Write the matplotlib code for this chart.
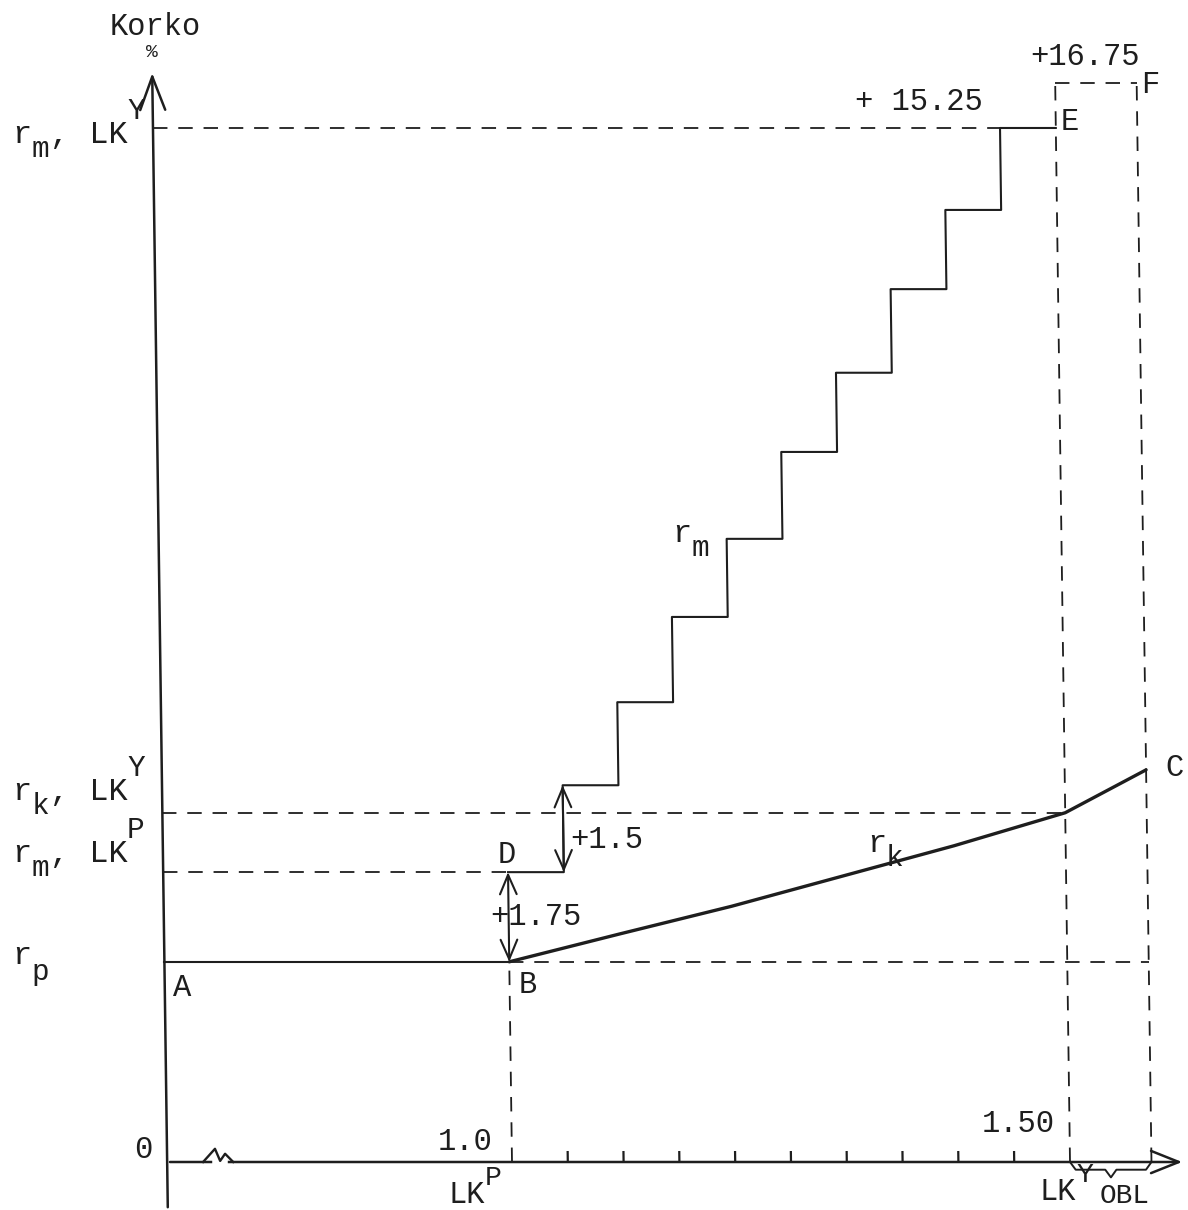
import matplotlib
matplotlib.use("Agg")
import matplotlib.pyplot as plt
import numpy as np
from matplotlib.transforms import Affine2D
from matplotlib.patches import FancyArrowPatch

plt.rcParams['font.family'] = ['Liberation Mono', 'DejaVu Sans']

# ---------------- data ----------------
lk_ticks = [1.00, 1.05, 1.10, 1.15, 1.20, 1.25, 1.30, 1.35, 1.40, 1.45, 1.50]
lk_P = 1.00
lk_Y = 1.50
obl_end = 1.573
r_p = 3.64
r_m_LKP = 5.27
r_k_LKY = 6.35
r_m_LKY = 18.80
r_F = 19.62
step_x = [1.00, 1.05, 1.10, 1.15, 1.20, 1.25, 1.30, 1.35, 1.40, 1.45, 1.50]
step_y = [5.27, 6.85, 8.36, 9.91, 11.33, 12.91, 14.35, 15.87, 17.31, 18.80, 18.80]
rk_x = [1.00, 1.10, 1.20, 1.30, 1.40, 1.50, 1.573]
rk_y = [3.64, 4.15, 4.65, 5.20, 5.75, 6.35, 7.13]
y_axis_x = 0.691
x_axis_end = 1.603
y_axis_top = 19.85
break_x = 0.734

INK = '#1e1e1e'
FS = 22

fig = plt.figure(figsize=(11.88, 12.10), dpi=100)
ax = fig.add_axes([0, 0, 1, 1])
ax.set_xlim(0.54122, 1.60573)
ax.set_ylim(-0.8727, 21.127)
ax.set_autoscale_on(False)
ax.axis('off')

# slight shear of the scanned drawing (verticals lean left towards the top)
k = 15 / 1093
y0 = ax.transData.transform((1.0, 0.0))[1]
tr = ax.transData + Affine2D(np.array([[1, -k, k * y0], [0, 1, 0], [0, 0, 1]]))

dash = dict(color=INK, lw=1.3, linestyle=(0, (8, 6)), transform=tr)

# axes
ax.add_patch(FancyArrowPatch((y_axis_x, ax.get_ylim()[0]), (y_axis_x, y_axis_top),
                             arrowstyle='->,head_length=1.2,head_width=0.45',
                             mutation_scale=20, color=INK, lw=1.8, transform=tr))
ax.add_patch(FancyArrowPatch((y_axis_x, 0), (x_axis_end, 0),
                             arrowstyle='->,head_length=1.0,head_width=0.4',
                             mutation_scale=20, color=INK, lw=1.8, transform=tr))
# axis break squiggle
bw = 0.009
sq_x = [break_x - bw * 1.2, break_x, break_x + bw * 0.5, break_x + bw * 1.0, break_x + bw * 1.8]
sq_y = [0.0, 0.24, 0.02, 0.15, 0.0]
ax.plot(sq_x[1:-1], [0.0] * 3, color='white', lw=4, transform=tr, zorder=3)
ax.plot(sq_x, sq_y, color=INK, lw=1.7, transform=tr, zorder=4)

# ticks
ax.vlines(lk_ticks[1:-1], 0, 0.2, color=INK, lw=1.6, transform=tr)

# reference lines
ax.plot([y_axis_x, lk_P], [r_p, r_p], color=INK, lw=1.5, transform=tr)
ax.plot([lk_P, obl_end], [r_p, r_p], **dash)
ax.plot([y_axis_x, lk_P], [r_m_LKP, r_m_LKP], **dash)
ax.plot([y_axis_x, lk_Y], [r_k_LKY, r_k_LKY], **dash)
ax.plot([y_axis_x, step_x[-2]], [r_m_LKY, r_m_LKY], **dash)
ax.plot([lk_P, lk_P], [0, r_p], **dash)
ax.plot([lk_Y, lk_Y], [0, r_F], **dash)
ax.plot([obl_end, obl_end], [0, r_F], **dash)
ax.plot([lk_Y, obl_end], [r_F, r_F], **dash)

# r_m staircase
ax.step(step_x, step_y, where='post', color=INK, lw=1.5, transform=tr)

# r_k curve
ax.plot(rk_x, rk_y, color=INK, lw=2.4, transform=tr, solid_capstyle='round')

# double arrows
for (xa, ya, yb) in [(lk_P, r_p, r_m_LKP), (step_x[1], step_y[0], step_y[1])]:
    ax.add_patch(FancyArrowPatch((xa, ya), (xa, yb),
                                 arrowstyle='<->,head_length=0.7,head_width=0.3',
                                 mutation_scale=20, color=INK, lw=1.5,
                                 shrinkA=0, shrinkB=0, transform=tr))

# brace under the OBL interval
bm = (lk_Y + obl_end) / 2
bx = [lk_Y, lk_Y + 0.005, bm - 0.005, bm, bm + 0.005, obl_end - 0.005, obl_end]
by = [0, -0.14, -0.14, -0.28, -0.14, -0.14, 0]
ax.plot(bx, by, color=INK, lw=1.4, transform=tr)


# texts
def T(x, y, s, ha='left', va='baseline', fs=FS):
    ax.text(x, y, s, ha=ha, va=va, fontsize=fs, color=INK)


def L(x, y, parts, fs=23):
    """typewriter style label: parts = (text, vertical shift in px)"""
    cw = 0.6 * fs * 100 / 72
    col = 0
    for s, dy in parts:
        ax.annotate(s, (x, y), xytext=(col * cw, dy), textcoords='offset pixels',
                    fontsize=fs if dy == 0 else fs * 0.92, ha='left', va='baseline', color=INK)
        col += len(s)


T(0.6801, 20.64, 'Korko', ha='center', va='center')
T(0.6774, 20.18, '%', ha='center', va='center', fs=14)
L(0.5520, 18.53, [('r', 0), ('m', -14), (',', 0), (' LK', 0), ('Y', 24)])
L(0.5520, 6.58, [('r', 0), ('k', -14), (',', 0), (' LK', 0), ('Y', 24)])
L(0.5520, 5.45, [('r', 0), ('m', -14), (',', 0), (' LK', 0), ('P', 24)])
L(0.5520, 3.60, [('r', 0), ('p', -16)])
T(0.7043, 3.16, 'A', ha='center', va='center')
T(1.0143, 3.22, 'B', ha='center', va='center')
T(0.9955, 5.58, 'D', ha='center', va='center')
T(1.4995, 18.91, 'E', ha='center', va='center')
T(1.5717, 19.58, 'F', ha='center', va='center')
T(1.5940, 7.16, 'C', ha='center', va='center')
L(1.1434, 11.27, [('r', 0), ('m', -14)])
L(1.3180, 5.64, [('r', 0), ('k', -14)])
T(1.3073, 19.13, '+ 15.25')
T(1.4642, 19.95, '+16.75')
T(1.0520, 5.71, '+1.5')
T(0.9803, 4.31, '+1.75')
T(0.6694, 0.22, '0', ha='center', va='center')
T(0.9821, 0.22, '1.0', ha='right')
T(1.4866, 0.545, '1.50', ha='right')
L(0.9427, -0.745, [('LK', 0), ('P', 18)], fs=22)
L(1.4731, -0.69, [('LK', 0), ('Y', 18)], fs=22)
T(1.5269, -0.74, 'OBL', fs=20)

fig.savefig('out.png', dpi=100, facecolor='white')
